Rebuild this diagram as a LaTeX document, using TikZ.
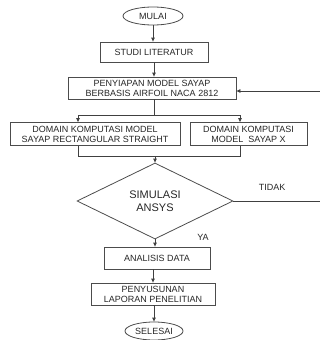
\documentclass[tikz,border=0pt]{standalone}
\usepackage{fontspec}
\setmainfont{Liberation Sans}
\usetikzlibrary{shapes.geometric,arrows.meta}
\begin{document}
\begin{tikzpicture}[x=1pt,y=-1pt,
  every node/.style={font=\fontsize{9}{10}\selectfont, text=black!85, inner sep=0pt, align=center},
  box/.style={draw=black!70, line width=0.8pt, rectangle},
  oval/.style={draw=black!70, line width=0.8pt, ellipse},
  dia/.style={draw=black!70, line width=0.8pt, diamond, font=\fontsize{11}{12.5}\selectfont},
  ln/.style={draw=black!75, line width=0.8pt},
  arr/.style={ln, -{Triangle[length=4pt,width=3.5pt]}},
  lbl/.style={font=\fontsize{9}{10}\selectfont}
]
\useasboundingbox (0,0) rectangle (320,340);
\node[oval, minimum width=60pt, minimum height=18pt] (mulai) at (153,16) {MULAI};
\node[box, minimum width=108pt, minimum height=20pt] (studi) at (154,52) {STUDI LITERATUR};
\node[box, minimum width=168pt, minimum height=22pt] (siap) at (152,88) {PENYIAPAN MODEL SAYAP\\BERBASIS AIRFOIL NACA 2812};
\node[box, minimum width=170pt, minimum height=23pt] (dom1) at (95,134) {DOMAIN KOMPUTASI MODEL\\SAYAP RECTANGULAR STRAIGHT};
\node[box, minimum width=117pt, minimum height=23pt] (dom2) at (248.5,134) {DOMAIN KOMPUTASI\\MODEL\ \ SAYAP X};
\node[dia, minimum width=156pt, minimum height=76pt] (sim) at (155,201) {SIMULASI\\ANSYS};
\node[box, minimum width=106pt, minimum height=22pt] (anal) at (157,258) {ANALISIS DATA};
\node[box, minimum width=124pt, minimum height=22pt] (susun) at (153,294) {PENYUSUNAN\\LAPORAN PENELITIAN};
\node[oval, minimum width=58pt, minimum height=18pt] (selesai) at (154,331) {SELESAI};
\node[lbl] (tidak) at (272,187) {TIDAK};
\node[lbl] (ya) at (203,237) {YA};

\coordinate (s1) at (154,115);
\coordinate (sl) at (78,115);
\coordinate (sr) at (240,115);
\coordinate (m1) at (155,156);
\coordinate (ml) at (78,156);
\coordinate (mr) at (240,156);
\coordinate (fb1) at (321,201);
\coordinate (fb2) at (321,91);

\draw[arr] (mulai.south) -- (mulai.south |- studi.north);
\draw[arr] (studi.south) -- (studi.south |- siap.north);
\draw[ln] (siap.south -| s1) -- (s1);
\draw[ln] (sl) -- (sr);
\draw[arr] (sl) -- (sl |- dom1.north);
\draw[arr] (sr) -- (sr |- dom2.north);
\draw[ln] (ml |- dom1.south) -- (ml) -- (mr) -- (mr |- dom2.south);
\draw[arr] (m1) -- (sim.north);
\draw[ln] (sim.east) -- (fb1) -- (fb2);
\draw[arr] (fb2) -- (siap.east |- fb2);
\draw[arr] (sim.south) -- (sim.south |- anal.north);
\draw[arr] (anal.south -| susun.north) -- (susun.north);
\draw[arr] (susun.south) -- (susun.south -| selesai.north) -- (selesai.north);
\end{tikzpicture}
\end{document}
